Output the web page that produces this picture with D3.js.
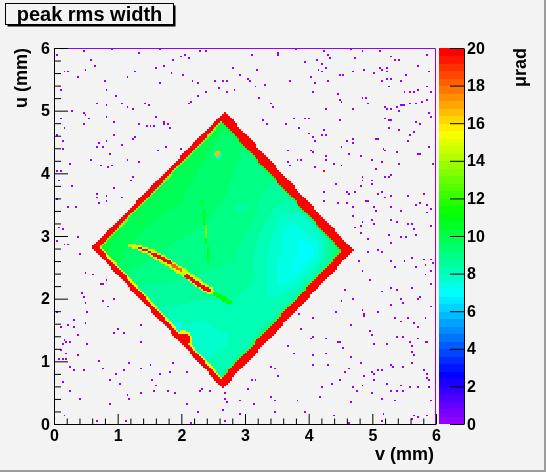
<!DOCTYPE html>
<html><head><meta charset="utf-8">
<script src="https://cdn.jsdelivr.net/npm/d3@7/dist/d3.min.js"></script>
<style>
html,body{margin:0;padding:0;background:#f3f3f3;}
#wrap{position:relative;width:546px;height:472px;overflow:hidden;}
canvas,svg{position:absolute;left:0;top:0;}
text{font-family:"Liberation Sans",Arial,Helvetica,sans-serif;font-weight:bold;}
</style></head><body>
<div id="wrap"><canvas id="cv" width="546" height="472"></canvas><svg id="sv" width="546" height="472"></svg></div>
<script>
// ---------------- data ----------------
const chartTitle = "peak rms width";
const xTitle = "v (mm)";
const yTitle = "u (mm)";
const zTitle = "μrad";
const axisTicks = [0, 1, 2, 3, 4, 5, 6];
const zTicks = [0, 2, 4, 6, 8, 10, 12, 14, 16, 18, 20];
const axisRange = [0, 6];
const zRange = [0, 20];
const nBins = 200;
const nLevels = 50;

// diamond outline (v,u): left, top, right, bottom corners
const diamondCorners = [[0.60, 2.82], [2.68, 4.99], [4.70, 2.77], [2.65, 0.57]];
// edges: L-T, T-R, R-B, B-L
const edgeRedWidth = [0.075, 0.14, 0.125, 0.075];
const edgeRimWidth = [0.025, 0.02, 0.022, 0.032];
const edgeRimValue = [13.5, 11.2, 12.0, 15.0];
const edgeValue = 21;

// interior values: rows from B-L edge to T-R edge, cols from L-T edge to R-B edge
const interiorGrid = [
  [10.4, 9.6, 8.6, 8.2, 7.8, 8.0, 8.6],
  [10.2, 9.4, 9.0, 8.6, 8.0, 7.9, 8.5],
  [10.0, 9.5, 9.1, 8.8, 8.5, 8.2, 8.6],
  [10.0, 9.6, 9.2, 9.0, 8.6, 8.0, 8.6],
  [9.9, 9.5, 9.2, 8.9, 8.0, 7.2, 8.8],
  [9.8, 9.4, 9.0, 8.7, 7.4, 6.9, 9.4],
  [9.8, 9.2, 8.9, 8.7, 8.4, 8.8, 10.8]
];

// local patches [v, u, radius, value]
const blobs = [
  [2.95, 3.45, 0.10, 8.4], [1.80, 1.65, 0.08, 7.6], [1.93, 1.55, 0.07, 7.0],
  [2.57, 4.30, 0.065, 7.6], [2.57, 4.31, 0.04, 16.5], [2.55, 4.62, 0.02, 12.5],
  [0.68, 2.78, 0.04, 12.0], [0.76, 2.66, 0.035, 15.0], [0.84, 2.55, 0.035, 14.0],
  [0.96, 2.42, 0.03, 15.0],
  [2.03, 1.36, 0.13, 15.0], [2.03, 1.35, 0.10, 21.0]
];
// line features [v1, u1, v2, u2, halfWidth, value]
const streaks = [
  [2.33, 3.55, 2.43, 2.55, 0.012, 10.8],
  [2.37, 3.20, 2.40, 2.95, 0.014, 13.5],
  [2.45, 2.12, 2.75, 1.95, 0.035, 11.0],
  [1.21, 2.85, 1.53, 2.74, 0.04, 14.5],
  [1.53, 2.74, 2.03, 2.42, 0.06, 14.5],
  [2.03, 2.42, 2.45, 2.12, 0.06, 14.5],
  [1.33, 2.81, 1.50, 2.75, 0.016, 21],
  [1.56, 2.72, 1.82, 2.57, 0.028, 21],
  [1.86, 2.54, 2.00, 2.45, 0.022, 18],
  [2.08, 2.36, 2.43, 2.13, 0.03, 21]
];

// isolated low-value bins outside the diamond [v, u]
const noiseDots = [
[0.04,5.90],[0.47,5.95],[0.92,5.98],[1.32,5.92],[1.65,5.98],[2.04,5.88],[2.12,5.84],[2.29,5.96],[2.38,5.94],[1.87,5.79],
[1.99,5.85],[0.57,5.79],[0.63,5.72],[0.50,5.64],[0.21,5.63],[0.16,5.62],[0.36,5.53],[0.79,5.47],[1.16,5.54],[1.28,5.63],
[1.60,5.67],[1.72,5.71],[1.84,5.59],[2.03,5.56],[2.16,5.47],[2.25,5.43],[1.66,5.44],[2.54,5.47],[2.64,5.48],[2.72,5.47],
[2.58,5.35],[2.72,5.30],[2.83,5.32],[2.91,5.56],[2.80,5.67],[0.09,5.32],[0.82,5.32],[0.98,5.23],[0.67,5.12],[0.81,5.07],
[1.06,5.12],[1.16,5.04],[1.25,5.01],[1.42,5.12],[1.47,5.07],[2.14,5.15],[2.12,5.11],[2.27,5.24],[2.38,5.28],[0.29,4.98],
[0.46,4.96],[0.50,4.93],[0.56,4.86],[0.81,4.89],[1.60,4.89],[1.73,4.82],[1.78,4.77],[1.81,4.72],[1.72,4.77],[1.46,4.75],
[1.52,4.74],[1.56,4.74],[1.34,4.79],[0.93,4.80],[0.47,4.78],[0.16,4.72],[0.09,4.86],[0.13,4.51],[0.05,4.59],[0.71,4.48],
[0.81,4.50],[0.76,4.43],[0.68,4.41],[1.05,4.46],[1.27,4.57],[1.25,4.55],[0.93,4.59],[0.89,4.31],[0.14,4.40],[1.75,4.41],
[2.00,4.40],[1.63,4.36],[0.57,4.20],[0.25,4.14],[0.73,4.11],[0.92,4.11],[0.86,4.09],[1.14,4.22],[1.34,4.19],[0.05,4.02],
[0.09,4.02],[0.06,3.87],[0.29,3.79],[1.20,3.88],[1.25,3.93],[0.93,3.76],[0.67,3.67],[0.81,3.63],[0.67,3.60],[0.81,3.54],
[0.71,3.51],[1.05,3.62],[0.03,3.58],[0.34,3.47],[0.22,3.46],[0.06,3.13],[0.13,3.10],[0.36,2.98],
[3.09,5.88],[3.52,5.92],[3.51,5.88],[3.79,5.98],[4.23,5.96],[4.31,5.89],[4.34,5.84],[4.66,5.98],[4.73,5.84],[4.84,5.94],
[5.11,5.96],[5.28,5.87],[5.35,5.81],[5.41,5.79],[5.71,5.72],[5.87,5.90],[3.18,5.65],[3.93,5.76],[4.13,5.80],[4.21,5.73],
[4.26,5.69],[4.16,5.64],[4.21,5.62],[4.49,5.57],[4.54,5.55],[4.69,5.62],[4.86,5.64],[5.03,5.59],[5.12,5.69],[5.15,5.64],
[5.23,5.68],[5.24,5.62],[5.15,5.48],[5.23,5.49],[5.30,5.51],[5.45,5.48],[5.54,5.56],[5.89,5.62],[3.05,5.51],[3.06,5.46],
[3.69,5.48],[4.02,5.53],[4.31,5.47],[4.10,5.43],[3.30,5.40],[3.16,5.39],[3.21,5.21],[4.05,5.30],[4.44,5.27],[4.49,5.18],
[4.52,5.14],[4.83,5.19],[4.90,5.21],[4.93,5.12],[5.25,5.39],[5.50,5.30],[5.59,5.28],[5.64,5.30],[5.71,5.32],[5.85,5.37],
[5.91,5.28],[3.39,5.12],[3.42,5.04],[4.28,5.03],[4.69,5.02],[5.20,5.04],[5.23,5.03],[5.29,5.03],[5.38,5.05],[5.40,5.00],
[5.43,5.07],[5.47,5.08],[5.51,5.09],[5.59,5.10],[5.68,5.12],[5.77,5.14],[5.85,5.16],[5.88,4.96],[5.91,4.89],[3.95,4.87],
[4.01,4.86],[3.76,4.86],[4.48,4.83],[5.20,4.87],[5.25,4.84],[5.28,4.83],[5.68,4.80],[5.73,4.79],[3.29,4.83],[3.34,4.79],
[3.65,4.77],[3.84,4.73],[4.23,4.70],[4.21,4.61],[4.27,4.61],[3.99,4.64],[4.05,4.57],[4.10,4.52],[4.60,4.50],[4.69,4.55],
[5.04,4.55],[5.08,4.55],[5.25,4.72],[5.40,4.68],[5.66,4.67],[5.59,4.59],[5.55,4.50],[4.69,4.47],[4.51,4.41],[4.62,4.31],
[4.81,4.27],[4.02,4.35],[4.05,4.34],[3.67,4.35],[3.83,4.22],[3.88,4.22],[4.26,4.26],[4.28,4.20],[4.39,4.15],[4.52,4.11],
[5.17,4.40],[5.19,4.36],[5.38,4.34],[5.41,4.16],[5.72,4.30],[5.75,4.29],[5.88,4.41],[5.96,4.16],[3.67,4.19],[3.71,4.13],
[4.09,4.10],[4.99,4.20],[5.14,4.19],[5.05,4.07],[5.30,3.97],[5.27,3.94],[5.20,3.95],[4.83,3.94],[4.84,3.88],[4.99,3.88],
[5.00,3.83],[4.41,3.81],[4.23,3.69],[4.60,3.71],[4.62,3.66],[4.73,3.70],[4.82,3.78],[4.91,3.56],[4.93,3.54],[5.09,3.66],
[5.19,3.61],[5.29,3.63],[5.14,3.69],[5.57,3.64],[5.73,3.53],[5.85,3.49],[5.80,3.66],[5.68,3.50],[4.25,3.56],[4.44,3.51],
[4.60,3.53],[4.69,3.46],[5.03,3.46],[5.04,3.39],[5.28,3.45],[5.43,3.39],[5.87,3.37],[5.93,3.42],[4.68,3.31],[4.73,3.14],
[4.81,3.15],[4.82,3.03],[4.83,3.21],[4.99,3.24],[5.02,3.18],[5.29,3.26],[5.38,3.21],[5.57,3.19],[5.61,3.18],[5.66,3.09],
[5.91,3.15],[5.67,3.02],[5.25,3.02],
[0.03,2.93],[0.16,2.86],[0.21,2.87],[0.36,2.97],[0.39,2.70],[0.50,2.42],[0.60,2.38],[0.72,2.23],[0.77,2.23],[0.83,2.29],
[1.12,2.25],[0.42,2.09],[0.46,2.02],[0.48,1.93],[0.51,1.79],[0.76,1.97],[0.94,1.98],[0.85,1.86],[0.86,1.86],[0.05,1.77],
[0.32,1.66],[0.21,1.58],[0.09,1.54],[0.50,1.60],[0.31,1.54],[0.36,1.42],[0.93,1.46],[1.01,1.51],[1.10,1.45],[1.37,1.58],
[0.15,1.34],[0.20,1.31],[0.26,1.31],[0.13,1.26],[0.53,1.27],[1.35,1.31],[0.09,1.18],[0.20,1.12],[0.37,1.10],[0.08,1.03],
[0.13,1.03],[0.18,1.03],[0.26,0.92],[0.30,0.86],[0.45,0.86],[0.69,0.99],[0.77,0.87],[0.98,0.78],[1.10,0.84],[1.19,0.96],
[1.35,0.87],[1.52,0.94],[1.81,0.81],[1.86,0.96],[2.07,0.81],[1.66,0.78],[0.12,0.66],[0.89,0.69],[1.04,0.65],[1.53,0.69],
[1.60,0.61],[1.58,0.52],[1.77,0.53],[1.90,0.49],[1.15,0.45],[1.19,0.39],[0.25,0.52],[0.41,0.39],[0.89,0.30],[1.35,0.50],
[2.09,0.32],[2.25,0.20],[2.28,0.53],[2.31,0.54],[2.43,0.53],[2.14,0.01],[0.17,0.14],[0.67,0.05],[1.13,0.05],[2.68,0.05],
[2.67,0.48],[2.68,0.39],[2.72,0.34],[2.64,0.23],[2.91,0.36],[2.92,0.17],
[4.93,2.96],[5.29,2.88],[5.43,2.97],[5.54,2.98],[4.94,2.75],[5.08,2.78],[5.14,2.73],[4.77,2.59],[4.84,2.45],
[5.30,2.58],[5.35,2.50],[5.50,2.58],[5.61,2.66],[5.68,2.50],[5.80,2.61],[5.83,2.52],[5.92,2.63],[5.94,2.56],[5.92,2.45],
[5.83,2.38],[5.91,2.23],[4.95,2.30],[5.15,2.11],[5.30,2.17],[5.38,2.15],[5.62,2.17],[5.75,2.01],[5.72,1.98],[5.43,1.99],
[5.46,1.93],[5.30,1.90],[4.57,2.13],[4.51,1.97],[4.69,1.99],[4.84,1.81],[4.86,1.74],[4.87,1.73],[5.08,1.78],[5.35,1.69],
[5.43,1.63],[5.55,1.70],[5.64,1.60],[5.72,1.53],[5.83,1.70],[5.91,1.87],[3.86,1.74],[4.07,1.70],[4.41,1.79],[4.43,1.79],
[4.66,1.58],[4.95,1.49],[4.98,1.42],[3.88,1.52],[4.04,1.37],[4.07,1.38],[4.28,1.37],[4.46,1.30],[4.49,1.29],[4.54,1.21],
[5.03,1.28],[5.24,1.26],[5.38,1.40],[5.46,1.38],[5.58,1.30],[5.62,1.23],[5.71,1.37],[5.83,1.30],[5.85,1.29],[5.63,1.14],
[5.64,1.10],[3.67,1.25],[3.77,1.13],[4.05,1.10],[4.28,1.12],[4.66,1.06],[4.80,0.98],[5.30,0.94],[5.33,0.92],[5.46,0.92],
[5.62,0.97],[5.79,0.86],[5.87,0.73],[5.87,0.78],[5.89,0.71],[3.41,0.92],[3.46,0.87],[3.53,0.77],[4.05,0.93],[4.30,0.93],
[4.56,0.81],[4.62,0.87],[4.86,0.77],[4.98,0.81],[5.03,0.80],[5.07,0.85],[5.14,0.85],[3.09,0.71],[3.15,0.69],[4.20,0.57],
[4.37,0.65],[4.49,0.69],[4.69,0.59],[4.84,0.62],[5.02,0.69],[5.23,0.64],[5.30,0.53],[5.38,0.53],[5.45,0.61],[5.59,0.57],
[5.71,0.58],[5.89,0.57],[5.46,0.53],[4.75,0.52],[4.99,0.50],[3.03,0.54],[3.39,0.43],[3.46,0.37],[3.83,0.36],[4.19,0.43],
[4.65,0.34],[5.14,0.39],[5.35,0.38],[3.13,0.32],[3.47,0.20],[3.93,0.20],[4.40,0.13],[4.63,0.02],[5.17,0.16],[5.15,0.04],
[5.64,0.14],[5.62,0.06],[5.72,0.09],[5.85,0.14],[5.91,0.38]
];
const noiseValue = 0.2;
const hotDots = [[4.23, 4.04]];

// ---------------- scales ----------------
const x = d3.scaleLinear().domain(axisRange).range([54, 436]);
const y = d3.scaleLinear().domain(axisRange).range([424, 48]);
const z = d3.scaleLinear().domain(zRange).range([424, 48]);
const levelOf = d3.scaleQuantize().domain(zRange).range(d3.range(nLevels));
const colorOfLevel = k => d3.hsl(280 - (k + 1) * (280 / nLevels), 1, 0.5).formatHex();
const colorOf = v => colorOfLevel(v >= zRange[1] ? nLevels - 1 : levelOf(Math.max(zRange[0], v)));

// ---------------- cell contents ----------------
const bw = (axisRange[1] - axisRange[0]) / nBins;
const [L, T, R, B] = diamondCorners;
const edges = [[L, T], [T, R], [R, B], [B, L]];
function edgeDist(p, a, b) {
  const dx = b[0] - a[0], dy = b[1] - a[1];
  return Math.abs(dx * (p[1] - a[1]) - dy * (p[0] - a[0])) / Math.hypot(dx, dy);
}
function segDist(p, s) {
  const ax = s[0], ay = s[1], bx = s[2], by = s[3];
  const dx = bx - ax, dy = by - ay;
  let t = ((p[0] - ax) * dx + (p[1] - ay) * dy) / (dx * dx + dy * dy);
  t = Math.max(0, Math.min(1, t));
  return Math.hypot(p[0] - ax - t * dx, p[1] - ay - t * dy);
}
const e1 = [T[0] - L[0], T[1] - L[1]], e2 = [B[0] - L[0], B[1] - L[1]];
const det = e1[0] * e2[1] - e1[1] * e2[0];
function interior(p) {
  const dx = p[0] - L[0], dy = p[1] - L[1];
  const a = Math.max(0, Math.min(1, (dx * e2[1] - dy * e2[0]) / det));
  const b = Math.max(0, Math.min(1, (e1[0] * dy - e1[1] * dx) / det));
  const n = interiorGrid.length - 1;
  const fa = a * n, fb = b * n;
  const ia = Math.min(n - 1, Math.floor(fa)), ib = Math.min(n - 1, Math.floor(fb));
  const ta = fa - ia, tb = fb - ib;
  const g = interiorGrid;
  return (g[ia][ib] * (1 - ta) + g[ia + 1][ib] * ta) * (1 - tb) +
         (g[ia][ib + 1] * (1 - ta) + g[ia + 1][ib + 1] * ta) * tb;
}
function diamondValue(p) {
  for (let k = 0; k < 4; k++) {
    if (edgeDist(p, edges[k][0], edges[k][1]) < edgeRedWidth[k]) return edgeValue;
  }
  let v = interior(p);
  for (const bl of blobs) if (Math.hypot(p[0] - bl[0], p[1] - bl[1]) < bl[2]) v = bl[3];
  for (const s of streaks) if (segDist(p, s) < s[4]) v = s[5];
  for (let k = 0; k < 4; k++) {
    const d = edgeDist(p, edges[k][0], edges[k][1]);
    if (d < edgeRedWidth[k] + edgeRimWidth[k] && v < edgeValue) v = Math.max(v, edgeRimValue[k]);
  }
  return v;
}
const cells = new Map();
for (let i = 0; i < nBins; i++) {
  for (let j = 0; j < nBins; j++) {
    const p = [axisRange[0] + (i + 0.5) * bw, axisRange[0] + (j + 0.5) * bw];
    if (d3.polygonContains(diamondCorners, p)) cells.set(i + "," + j, diamondValue(p));
  }
}
const binOf = v => Math.min(nBins - 1, Math.floor((v - axisRange[0]) / bw));
noiseDots.forEach(d => { const k = binOf(d[0]) + "," + binOf(d[1]); if (!cells.has(k)) cells.set(k, noiseValue); });
hotDots.forEach(d => cells.set(binOf(d[0]) + "," + binOf(d[1]), edgeValue));

// ---------------- draw cells ----------------
const ctx = document.getElementById("cv").getContext("2d");
ctx.fillStyle = "#f3f3f3"; ctx.fillRect(0, 0, 546, 472);
cells.forEach((v, key) => {
  const [i, j] = key.split(",").map(Number);
  const x0 = Math.round(x(i * bw)), x1 = Math.round(x((i + 1) * bw));
  const y0 = Math.round(y((j + 1) * bw)), y1 = Math.round(y(j * bw));
  ctx.fillStyle = colorOf(v);
  ctx.fillRect(x0, y0, Math.max(1, x1 - x0), Math.max(1, y1 - y0));
});
// palette
for (let k = 0; k < nLevels; k++) {
  const lo = zRange[0] + k * (zRange[1] - zRange[0]) / nLevels;
  const hi = zRange[0] + (k + 1) * (zRange[1] - zRange[0]) / nLevels;
  ctx.fillStyle = colorOfLevel(k);
  const ya = z(hi), yb = z(lo);
  ctx.fillRect(439, Math.floor(ya), 25, Math.ceil(yb) - Math.floor(ya));
}

// ---------------- svg overlay ----------------
const svg = d3.select("#sv");
svg.append("rect").attr("x", 544).attr("y", 0).attr("width", 2).attr("height", 472).attr("fill", "#9c9c9c");
svg.append("rect").attr("x", 0).attr("y", 470).attr("width", 546).attr("height", 2).attr("fill", "#9c9c9c");
svg.append("path").attr("d", `M${x(0)},${y(6) + 0.5}H${x(6) - 0.5}V${y(0)}`)
  .attr("fill", "none").attr("stroke", colorOfLevel(0)).attr("stroke-width", 1);

const minor = [];
for (let t = 0; t <= 30; t++) if (t % 5) minor.push(t * 0.2);

function styleAxis(g) {
  g.selectAll("path,line").attr("stroke", "#000").attr("stroke-width", 1);
  g.selectAll("text").attr("fill", "#000").style("font-size", "16px")
    .style("font-family", '"Liberation Sans",Arial,sans-serif').style("font-weight", "bold");
}
const gx = svg.append("g").attr("transform", `translate(0,${y(0)})`)
  .call(d3.axisBottom(x).tickValues(axisTicks).tickSize(-10).tickSizeOuter(0).tickPadding(5.5).tickFormat(d3.format("d")));
styleAxis(gx);
const gxm = svg.append("g").attr("transform", `translate(0,${y(0)})`)
  .call(d3.axisBottom(x).tickValues(minor).tickSize(-5.5).tickFormat(""));
styleAxis(gxm); gxm.select(".domain").remove();

const gy = svg.append("g").attr("transform", `translate(${x(0)},0)`)
  .call(d3.axisLeft(y).tickValues(axisTicks).tickSize(-14).tickSizeOuter(0).tickPadding(4).tickFormat(d3.format("d")));
styleAxis(gy);
const gym = svg.append("g").attr("transform", `translate(${x(0)},0)`)
  .call(d3.axisLeft(y).tickValues(minor).tickSize(-7).tickFormat(""));
styleAxis(gym); gym.select(".domain").remove();

const gz = svg.append("g").attr("transform", `translate(464,0)`)
  .call(d3.axisRight(z).tickValues(zTicks).tickSize(-14).tickSizeOuter(0).tickPadding(3).tickFormat(d3.format("d")));
styleAxis(gz);

svg.append("text").attr("x", 434).attr("y", 460).attr("text-anchor", "end")
  .style("font-size", "18px").text(xTitle);
svg.append("text").attr("transform", `translate(27,${y(6)}) rotate(-90)`).attr("text-anchor", "end")
  .style("font-size", "18px").text(yTitle);
svg.append("text").attr("transform", `translate(526,${z(20)}) rotate(-90)`).attr("text-anchor", "end")
  .style("font-size", "18px").text(zTitle);

svg.append("rect").attr("x", 7.5).attr("y", 5.5).attr("width", 168).attr("height", 21).attr("fill", "#000");
svg.append("rect").attr("x", 5.5).attr("y", 3.5).attr("width", 168).attr("height", 21)
  .attr("fill", "#f3f3f3").attr("stroke", "#000").attr("stroke-width", 1);
svg.append("text").attr("x", 89.5).attr("y", 20.7).attr("text-anchor", "middle")
  .style("font-size", "20px").text(chartTitle);
</script></body></html>
